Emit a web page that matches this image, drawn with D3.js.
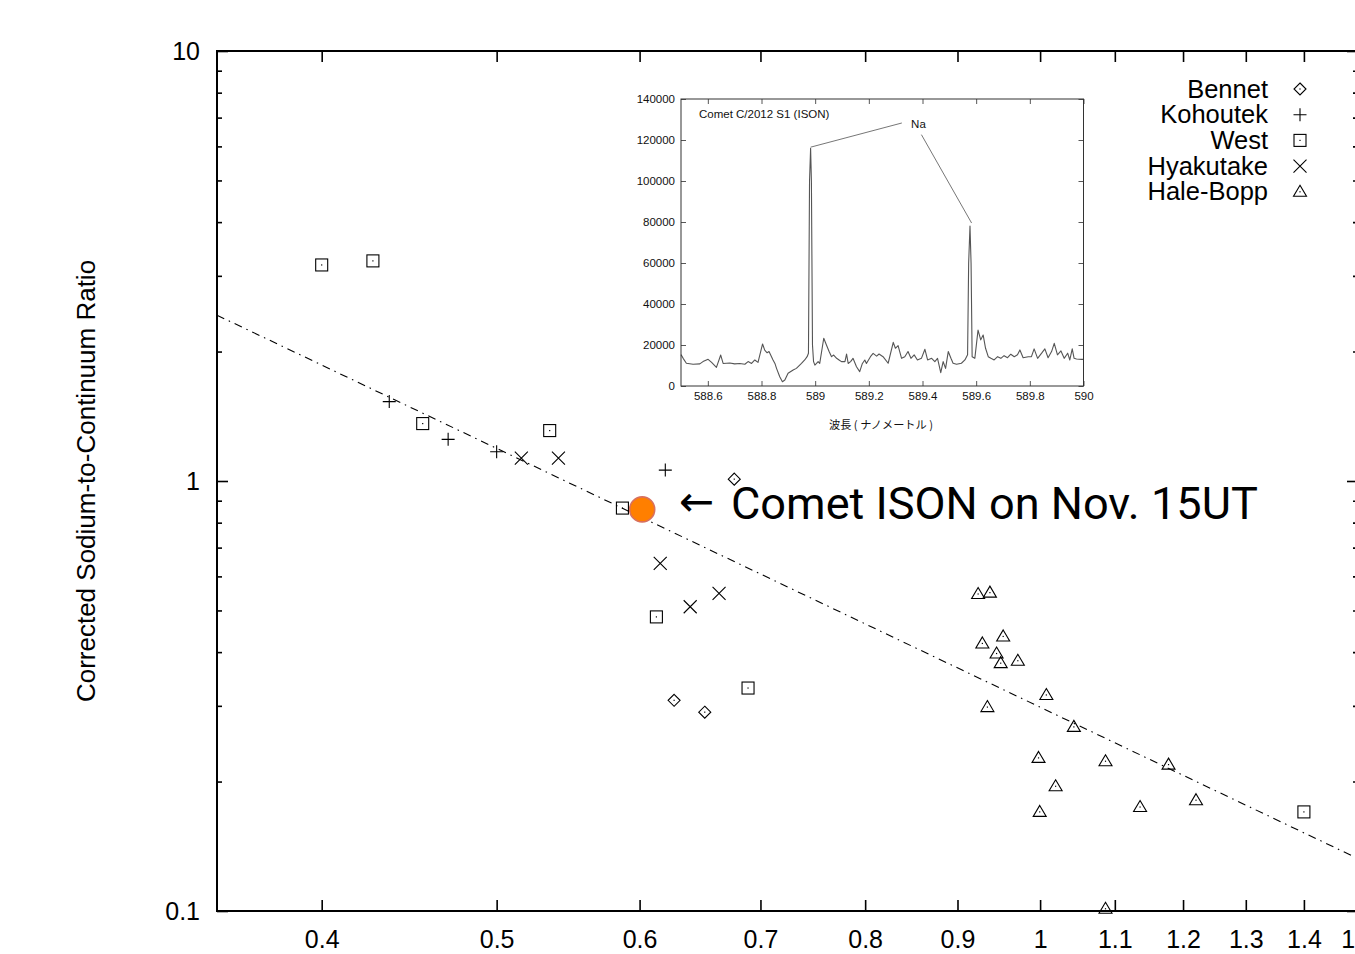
<!DOCTYPE html>
<html>
<head>
<meta charset="utf-8">
<script src="https://cdn.jsdelivr.net/npm/d3@7"></script>
<style>
  body { margin: 0; background: #fff; }
  text { font-family: "Liberation Sans", Arial, Helvetica, sans-serif; }
</style>
</head>
<body>
<svg id="chart" width="1355" height="954"></svg>
<script>
// ---- Sodium-to-continuum ratio vs. heliocentric distance ----
const bennetX    = [0.677, 0.627, 0.652];
const bennetY    = [1.01, 0.309, 0.290];
const kohoutekX  = [0.436, 0.470, 0.500, 0.620];
const kohoutekY  = [1.53, 1.25, 1.17, 1.06];
const westX      = [0.400, 0.427, 0.455, 0.535, 0.587, 0.613, 0.689, 1.40];
const westY      = [3.18, 3.25, 1.36, 1.31, 0.865, 0.483, 0.330, 0.170];
const hyakutakeX = [0.516, 0.541, 0.616, 0.640, 0.664];
const hyakutakeY = [1.13, 1.13, 0.643, 0.510, 0.548];
const haleBoppX  = [0.924, 0.938, 0.929, 0.954, 0.946, 0.951, 0.972, 0.935, 1.008,
                    1.044, 0.998, 1.020, 0.9995, 1.087, 1.178, 1.136, 1.220, 1.087];
const haleBoppY  = [0.546, 0.550, 0.419, 0.435, 0.397, 0.377, 0.382, 0.298, 0.318,
                    0.268, 0.227, 0.195, 0.170, 0.223, 0.219, 0.1745, 0.181, 0.1012];
const isonX = [0.602];
const isonY = [0.859];

// trend line end points
const trendX = [0.35, 1.5];
const trendY = [2.43, 0.1324];

const seriesNames = ["Bennet", "Kohoutek", "West", "Hyakutake", "Hale-Bopp"];
const xTicks = [0.4, 0.5, 0.6, 0.7, 0.8, 0.9, 1, 1.1, 1.2, 1.3, 1.4, 1.5];
const yTicks = [0.1, 1, 10];
const yMinorTicks = [0.2, 0.3, 0.4, 0.5, 0.6, 0.7, 0.8, 0.9, 2, 3, 4, 5, 6, 7, 8, 9];
const yTitle = "Corrected Sodium-to-Continuum Ratio";
const isonArrow = "\u2190";
const isonLabel = "Comet ISON on Nov. 15UT";

// ---- inset: Na D emission spectrum of C/2012 S1 ----
const specWave = [
  588.500, 588.508, 588.520, 588.545, 588.570, 588.582, 588.601, 588.614, 588.632, 588.648,
  588.657, 588.682, 588.700, 588.719, 588.738, 588.750, 588.763, 588.775, 588.787, 588.804,
  588.812, 588.821, 588.828, 588.843, 588.850, 588.856, 588.868, 588.878, 588.887, 588.899,
  588.918, 588.930, 588.949, 588.961, 588.970, 588.975, 588.979, 588.983, 588.986, 588.990,
  588.994, 588.999, 589.011, 589.017, 589.032, 589.042, 589.052, 589.061, 589.069, 589.080,
  589.089, 589.098, 589.111, 589.117, 589.123, 589.132, 589.141, 589.154, 589.166, 589.176,
  589.185, 589.191, 589.206, 589.216, 589.229, 589.238, 589.253, 589.272, 589.291, 589.299,
  589.309, 589.322, 589.334, 589.346, 589.357, 589.369, 589.381, 589.396, 589.409, 589.419,
  589.434, 589.446, 589.456, 589.468, 589.477, 589.486, 589.496, 589.506, 589.514, 589.527,
  589.545, 589.558, 589.568, 589.572, 589.577, 589.581, 589.585, 589.595, 589.607, 589.617,
  589.626, 589.635, 589.645, 589.655, 589.667, 589.680, 589.692, 589.704, 589.717, 589.729,
  589.742, 589.754, 589.763, 589.775, 589.794, 589.806, 589.816, 589.829, 589.844, 589.856,
  589.868, 589.881, 589.891, 589.903, 589.916, 589.928, 589.941, 589.949, 589.958, 589.965,
  589.974, 589.993, 590.000];
const specCount = [
  15300, 13500, 11100, 10600, 10800, 11900, 13000, 11500, 9100, 15100,
  11000, 11200, 10800, 11000, 10600, 11900, 11000, 12700, 11500, 20500,
  17500, 16200, 16800, 12700, 11000, 8600, 4500, 2100, 2900, 6200,
  7800, 8600, 11000, 12700, 14300, 16000, 100000, 116000, 100000, 20000,
  11900, 10200, 11900, 11000, 23300, 20000, 16800, 14300, 15100, 13500,
  12700, 11900, 11900, 15600, 11000, 11900, 13500, 9400, 7000, 11000,
  12700, 11000, 14300, 15900, 14600, 15600, 14300, 11100, 21300, 18400,
  19700, 13500, 14300, 16800, 13500, 15200, 12700, 13500, 17900, 12700,
  13500, 11900, 13500, 6500, 11900, 8600, 16800, 13500, 11100, 10600,
  11100, 12700, 15200, 60000, 78000, 60000, 14300, 13500, 27300, 22500,
  24900, 18400, 14300, 13500, 12700, 14300, 13500, 14800, 13800, 15500,
  14300, 15200, 17600, 13800, 14300, 14300, 18100, 13500, 16000, 18100,
  13800, 16800, 20800, 15200, 17100, 13500, 16000, 12700, 18100, 13500,
  13200, 13000, 13000];
const insetXTicks = [588.6, 588.8, 589, 589.2, 589.4, 589.6, 589.8, 590];
const insetYTicks = [0, 20000, 40000, 60000, 80000, 100000, 120000, 140000];
const insetTitle = "Comet C/2012 S1 (ISON)";
const insetXTitle = "波長 ( ナノメートル )";
const naLabel = "Na";
// Na label anchor and the two leader-line ends (wavelength, counts)
const naText = [589.385, 128000];
const naLeader1 = [[588.983, 116500], [589.323, 128300]];
const naLeader2 = [[589.396, 122600], [589.583, 79500]];

// ---------------------------------------------------------------
const svg = d3.select("#chart");
svg.append("rect").attr("width", 1355).attr("height", 954).attr("fill", "#fff");

const P = { left: 217, right: 1358, top: 51, bottom: 911 };
const x = d3.scaleLog().domain([0.35, 1.5]).range([P.left, P.right]);
const y = d3.scaleLog().domain([0.1, 10]).range([P.bottom, P.top]);
const tickFont = 25;

// bottom axis with labels, ticks pointing inward
const gx = svg.append("g").attr("transform", `translate(0,${P.bottom})`)
  .call(d3.axisBottom(x).tickValues(xTicks).tickSize(-11).tickPadding(19.5)
        .tickFormat(d3.format("~g")));
gx.select(".domain").remove();
gx.selectAll("line").attr("stroke", "#000").attr("stroke-width", 1.6);
gx.selectAll("text").attr("font-size", tickFont).attr("fill", "#000");

// top axis ticks only
const gxt = svg.append("g").attr("transform", `translate(0,${P.top})`)
  .call(d3.axisTop(x).tickValues(xTicks).tickSize(-11).tickFormat(""));
gxt.select(".domain").remove();
gxt.selectAll("line").attr("stroke", "#000").attr("stroke-width", 1.6);

// left axis with labels
const gy = svg.append("g").attr("transform", `translate(${P.left},0)`)
  .call(d3.axisLeft(y).tickValues(yTicks).tickSize(-11).tickPadding(17)
        .tickFormat(d3.format("~g")));
gy.select(".domain").remove();
gy.selectAll("line").attr("stroke", "#000").attr("stroke-width", 1.6);
gy.selectAll("text").attr("font-size", tickFont).attr("fill", "#000");

const gyMinor = svg.append("g").attr("transform", `translate(${P.left},0)`)
  .call(d3.axisLeft(y).tickValues(yMinorTicks).tickSize(-5).tickFormat(""));
gyMinor.select(".domain").remove();
gyMinor.selectAll("line").attr("stroke", "#000").attr("stroke-width", 1.6);

// right axis ticks
const gyr = svg.append("g").attr("transform", `translate(${P.right},0)`)
  .call(d3.axisRight(y).tickValues(yTicks).tickSize(-11).tickFormat(""));
gyr.select(".domain").remove();
gyr.selectAll("line").attr("stroke", "#000").attr("stroke-width", 1.6);
const gyrMinor = svg.append("g").attr("transform", `translate(${P.right},0)`)
  .call(d3.axisRight(y).tickValues(yMinorTicks).tickSize(-5).tickFormat(""));
gyrMinor.select(".domain").remove();
gyrMinor.selectAll("line").attr("stroke", "#000").attr("stroke-width", 1.6);

// frame
svg.append("rect")
  .attr("x", P.left).attr("y", P.top)
  .attr("width", P.right - P.left).attr("height", P.bottom - P.top)
  .attr("fill", "none").attr("stroke", "#000").attr("stroke-width", 2);

// y title
svg.append("text")
  .attr("transform", `translate(95,${(P.top + P.bottom) / 2}) rotate(-90)`)
  .attr("text-anchor", "middle").attr("font-size", 26).attr("fill", "#000")
  .text(yTitle);

const marks = svg.append("g");

// trend line (dash-dot)
marks.append("path")
  .datum(d3.zip(trendX, trendY))
  .attr("d", d3.line().x(d => x(d[0])).y(d => y(d[1])))
  .attr("fill", "none").attr("stroke", "#000").attr("stroke-width", 1.1)
  .attr("stroke-dasharray", "8,5,1.5,5");

// point symbols
function symbol(g, kind, cx, cy) {
  const s = g.append("g").attr("transform", `translate(${cx},${cy})`)
    .attr("fill", "none").attr("stroke", "#000").attr("stroke-width", 1.1);
  const dot = () => s.append("rect").attr("x", -0.6).attr("y", -0.6)
    .attr("width", 1.2).attr("height", 1.2).attr("fill", "#000").attr("stroke", "none");
  if (kind === "diamond") {
    s.append("path").attr("d", "M0,-6 L6,0 L0,6 L-6,0 Z"); dot();
  } else if (kind === "plus") {
    s.append("path").attr("d", "M-6.5,0 H6.5 M0,-6.5 V6.5");
  } else if (kind === "square") {
    s.append("rect").attr("x", -6).attr("y", -6).attr("width", 12).attr("height", 12); dot();
  } else if (kind === "cross") {
    s.append("path").attr("d", "M-6.5,-6.5 L6.5,6.5 M6.5,-6.5 L-6.5,6.5");
  } else if (kind === "triangle") {
    s.append("path").attr("d", "M0,-6.5 L6.5,4.5 L-6.5,4.5 Z"); dot();
  }
}

const series = [
  { xs: bennetX, ys: bennetY, kind: "diamond" },
  { xs: kohoutekX, ys: kohoutekY, kind: "plus" },
  { xs: westX, ys: westY, kind: "square" },
  { xs: hyakutakeX, ys: hyakutakeY, kind: "cross" },
  { xs: haleBoppX, ys: haleBoppY, kind: "triangle" }
];
series.forEach(sr => {
  sr.xs.forEach((v, i) => symbol(marks, sr.kind, x(v), y(sr.ys[i])));
});

// legend
const legend = svg.append("g");
seriesNames.forEach((name, i) => {
  const by = 97.5 + i * 25.7;
  legend.append("text").attr("x", 1268).attr("y", by)
    .attr("text-anchor", "end").attr("font-size", 25.5).attr("fill", "#000").text(name);
  symbol(legend, series[i].kind, 1300, by - 8.5);
});

// ISON highlight
marks.selectAll("circle.ison").data(d3.zip(isonX, isonY)).join("circle")
  .attr("class", "ison")
  .attr("cx", d => x(d[0])).attr("cy", d => y(d[1])).attr("r", 12.5)
  .attr("fill", "#ff7f00").attr("stroke", "#d8705f").attr("stroke-width", 1.6);

svg.append("text").attr("x", 679).attr("y", 516)
  .style("font-family", "'DejaVu Sans', sans-serif")
  .attr("font-size", 42).attr("fill", "#000").text(isonArrow);

const isonText = svg.append("text").attr("x", 731).attr("y", 519)
  .style("font-family", "Roboto, 'Noto Sans', sans-serif")
  .attr("font-size", 45).attr("fill", "#000").text(isonLabel);
// fit the label to its span
const isonLen = isonText.node().getComputedTextLength();
if (isonLen > 0) isonText.attr("font-size", 45 * 527 / isonLen);

// ---------------- inset spectrum ----------------
const I = { left: 681, right: 1083.5, top: 99, bottom: 386 };
const sx = d3.scaleLinear().domain([588.5, 590]).range([I.left, I.right]);
const sy = d3.scaleLinear().domain([0, 140000]).range([I.bottom, I.top]);
const inset = svg.append("g");
inset.append("rect").attr("x", I.left).attr("y", I.top)
  .attr("width", I.right - I.left).attr("height", I.bottom - I.top).attr("fill", "#fff");

const ib = inset.append("g").attr("transform", `translate(0,${I.bottom})`)
  .call(d3.axisBottom(sx).tickValues(insetXTicks).tickSize(-5).tickPadding(6)
        .tickFormat(d3.format("~f")));
const it = inset.append("g").attr("transform", `translate(0,${I.top})`)
  .call(d3.axisTop(sx).tickValues(insetXTicks).tickSize(-5).tickFormat(""));
const il = inset.append("g").attr("transform", `translate(${I.left},0)`)
  .call(d3.axisLeft(sy).tickValues(insetYTicks).tickSize(-5).tickPadding(6)
        .tickFormat(d3.format("d")));
const ir = inset.append("g").attr("transform", `translate(${I.right},0)`)
  .call(d3.axisRight(sy).tickValues(insetYTicks).tickSize(-5).tickFormat(""));
[ib, it, il, ir].forEach(g => {
  g.select(".domain").remove();
  g.selectAll("line").attr("stroke", "#444").attr("stroke-width", 0.9);
  g.selectAll("text").attr("font-size", 11.5).attr("fill", "#111");
});

inset.append("path")
  .datum(d3.zip(specWave, specCount))
  .attr("d", d3.line().x(d => sx(d[0])).y(d => sy(d[1])))
  .attr("fill", "none").attr("stroke", "#555").attr("stroke-width", 1.1)
  .attr("stroke-linejoin", "round");

inset.append("rect").attr("x", I.left).attr("y", I.top)
  .attr("width", I.right - I.left).attr("height", I.bottom - I.top)
  .attr("fill", "none").attr("stroke", "#333").attr("stroke-width", 1);

inset.append("text").attr("x", 699).attr("y", 118)
  .attr("font-size", 11.5).attr("fill", "#111")
  .text(insetTitle);

inset.append("text").attr("x", sx(naText[0])).attr("y", sy(naText[1]) + 4)
  .attr("text-anchor", "middle").attr("font-size", 11.5).attr("fill", "#111")
  .text(naLabel);
[naLeader1, naLeader2].forEach(seg => {
  inset.append("line")
    .attr("x1", sx(seg[0][0])).attr("y1", sy(seg[0][1]))
    .attr("x2", sx(seg[1][0])).attr("y2", sy(seg[1][1]))
    .attr("stroke", "#666").attr("stroke-width", 0.9);
});

inset.append("text").attr("x", 881).attr("y", 429)
  .attr("text-anchor", "middle").attr("font-size", 11.2).attr("fill", "#111")
  .style("font-family", "'Noto Sans CJK JP', 'Noto Sans CJK SC', sans-serif")
  .text(insetXTitle);
</script>
</body>
</html>
